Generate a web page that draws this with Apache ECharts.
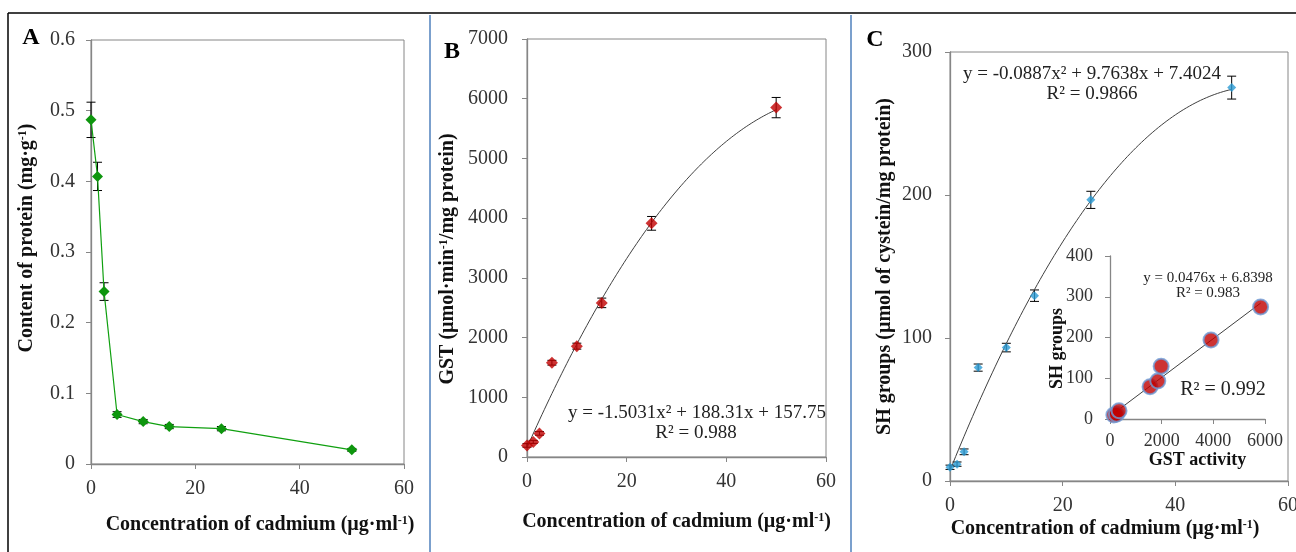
<!DOCTYPE html>
<html><head><meta charset="utf-8">
<script src="https://cdn.jsdelivr.net/npm/echarts@6/dist/echarts.min.js"></script>
<style>html,body{margin:0;padding:0;background:#fff}#c{width:1296px;height:552px}</style>
</head><body><div id="c"></div>
<script>
// ---------- data ----------
const concentration = [0, 1.25, 2.5, 5, 10, 15, 25, 50];
const protein      = [0.487, 0.407, 0.244, 0.070, 0.060, 0.053, 0.050, 0.020];
const proteinErr   = [0.025, 0.020, 0.0125, 0.004, 0.003, 0.003, 0.003, 0.002];
const gst          = [194, 253, 395, 1579, 1856, 2581, 3913, 5851];
const gstErr       = [30, 25, 30, 40, 50, 80, 115, 170];
const sh           = [9.6, 11.8, 20.4, 79.3, 93.3, 129.6, 196.6, 275.1];
const shErr        = [1.5, 1.5, 2, 2.5, 3, 4, 6, 8];
const insetGst     = [150, 250, 350, 1550, 1850, 1980, 3910, 5830];
const insetSh      = [9.6, 11.8, 20.4, 79.3, 93.3, 129.6, 194, 275];
// trendline coefficients printed on the chart
const fitB = [-1.5031, 188.31, 157.75];
const fitC = [-0.0887, 9.7638, 7.4024];
const fitInset = [0.0476, 6.8398];
// axis ticks [min, max, interval]
const ticksConc = [0, 60, 20];
const ticksProtein = [0, 0.6, 0.1];
const ticksGst = [0, 7000, 1000];
const ticksSh = [0, 300, 100];
const ticksInsetX = [0, 6000, 2000];
const ticksInsetY = [0, 400, 100];

const SERIF = '"Liberation Serif","Times New Roman",serif';
const AX = '#868686';

function pairs(xs, ys) { return xs.map((x, i) => [x, ys[i]]); }
function triples(xs, ys, es) { return xs.map((x, i) => [x, ys[i], es[i]]); }
function quad(c, x0, x1, n) {
  const out = [];
  for (let i = 0; i <= n; i++) { const x = x0 + (x1 - x0) * i / n; out.push([x, c[0]*x*x + c[1]*x + c[2]]); }
  return out;
}
function lin(c, x0, x1) { return [[x0, c[0]*x0 + c[1]], [x1, c[0]*x1 + c[1]]]; }

function errRender(capHalf) {
  return function (params, api) {
    const x = api.value(0), y = api.value(1), e = api.value(2);
    const t = api.coord([x, y + e]), b = api.coord([x, y - e]);
    const st = { stroke: '#000', lineWidth: 1 };
    return { type: 'group', children: [
      { type: 'line', shape: { x1: t[0], y1: t[1], x2: b[0], y2: b[1] }, style: st },
      { type: 'line', shape: { x1: t[0]-capHalf, y1: t[1], x2: t[0]+capHalf, y2: t[1] }, style: st },
      { type: 'line', shape: { x1: b[0]-capHalf, y1: b[1], x2: b[0]+capHalf, y2: b[1] }, style: st }
    ]};
  };
}

function axisBase(t, fs, margin) {
  return {
    type: 'value', min: t[0], max: t[1], interval: t[2],
    axisLine: { show: true, lineStyle: { color: AX, width: 1.3 } },
    axisTick: { show: true, inside: false, length: 5, lineStyle: { color: AX, width: 1 } },
    axisLabel: { fontFamily: SERIF, fontSize: fs, color: '#333', margin: margin, formatter: v => String(v) },
    splitLine: { show: false },
    nameLocation: 'middle', nameMoveOverlap: false
  };
}
function titleStyle(fs, padding) {
  return {
    fontFamily: SERIF, fontSize: fs, fontWeight: 'bold', color: '#111', padding: padding || 0,
    rich: { s: { fontFamily: SERIF, fontSize: Math.round(fs * 0.6), fontWeight: 'bold', color: '#111', verticalAlign: 'top' } }
  };
}

const concName = 'Concentration of cadmium (µg·ml{s|-1})';

const xAxes = [
  Object.assign(axisBase(ticksConc, 20, 15), { gridIndex: 0, name: concName, nameGap: 51, nameTextStyle: titleStyle(20, [0,0,0,25]) }),
  Object.assign(axisBase(ticksConc, 20, 15), { gridIndex: 1, name: concName, nameGap: 55, nameTextStyle: titleStyle(20) }),
  Object.assign(axisBase(ticksConc, 20, 15), { gridIndex: 2, name: concName, nameGap: 38, nameTextStyle: titleStyle(20, [0,28,0,0]) }),
  Object.assign(axisBase(ticksInsetX, 18, 13), { gridIndex: 3, name: 'GST activity', nameGap: 32, nameTextStyle: titleStyle(18, [0,0,0,20]) })
];
const yAxes = [
  Object.assign(axisBase(ticksProtein, 20, 16), { gridIndex: 0, name: 'Content of protein (mg·g{s|-1})', nameGap: 54, nameTextStyle: titleStyle(20, [0,0,0,28]),
    axisLabel: { fontFamily: SERIF, fontSize: 20, color: '#333', margin: 16, formatter: v => v === 0 ? '0' : v.toFixed(1) } }),
  Object.assign(axisBase(ticksGst, 20, 19), { gridIndex: 1, name: 'GST (µmol·min{s|-1}/mg protein)', nameGap: 69, nameTextStyle: titleStyle(20, [0,22,0,0]) }),
  Object.assign(axisBase(ticksSh, 20, 18), { gridIndex: 2, name: 'SH groups (µmol of cystein/mg protein)', nameGap: 55, nameTextStyle: titleStyle(20) }),
  Object.assign(axisBase(ticksInsetY, 18, 17), { gridIndex: 3, name: 'SH groups', nameGap: 44, nameTextStyle: titleStyle(18, [0,22,0,0]) })
];

const gridBorder = { show: true, borderColor: AX, borderWidth: 1, backgroundColor: 'transparent', containLabel: false, outerBoundsMode: 'none' };

const option = {
  animation: false,
  backgroundColor: '#fff',
  grid: [
    Object.assign({ left: 91, top: 40, width: 313, height: 424 }, gridBorder),
    Object.assign({ left: 527, top: 39, width: 299, height: 418 }, gridBorder),
    Object.assign({ left: 950, top: 52, width: 338, height: 429 }, gridBorder),
    { left: 1110, top: 256, width: 155, height: 163, show: false, containLabel: false, outerBoundsMode: 'none' }
  ],
  xAxis: xAxes,
  yAxis: yAxes,
  series: [
    // Panel A
    { type: 'custom', xAxisIndex: 0, yAxisIndex: 0, renderItem: errRender(4.5), data: triples(concentration, protein, proteinErr), z: 2 },
    { type: 'line', xAxisIndex: 0, yAxisIndex: 0, data: pairs(concentration, protein), symbol: 'diamond', symbolSize: 11,
      lineStyle: { color: '#10A010', width: 1.2 }, itemStyle: { color: '#0E960E' }, z: 3 },
    // Panel B
    { type: 'line', xAxisIndex: 1, yAxisIndex: 1, data: quad(fitB, 0, 50, 100), showSymbol: false, symbol: 'none',
      lineStyle: { color: '#404040', width: 1 }, z: 2 },
    { type: 'custom', xAxisIndex: 1, yAxisIndex: 1, renderItem: errRender(4.5), data: triples(concentration, gst, gstErr), z: 2 },
    { type: 'scatter', xAxisIndex: 1, yAxisIndex: 1, data: pairs(concentration, gst), symbol: 'diamond', symbolSize: 12,
      itemStyle: { color: '#C00000' }, z: 3 },
    // Panel C
    { type: 'line', xAxisIndex: 2, yAxisIndex: 2, data: quad(fitC, 0, 50, 100), showSymbol: false, symbol: 'none',
      lineStyle: { color: '#404040', width: 1 }, z: 2 },
    { type: 'custom', xAxisIndex: 2, yAxisIndex: 2, renderItem: errRender(4.5), data: triples(concentration, sh, shErr), z: 2 },
    { type: 'scatter', xAxisIndex: 2, yAxisIndex: 2, data: pairs(concentration, sh), symbol: 'diamond', symbolSize: 9,
      itemStyle: { color: '#2A9BD4' }, z: 3 },
    // Inset
    { type: 'line', xAxisIndex: 3, yAxisIndex: 3, data: lin(fitInset, Math.min(...insetGst), Math.max(...insetGst)), showSymbol: false, symbol: 'none',
      lineStyle: { color: '#404040', width: 1 }, z: 2 },
    { type: 'scatter', xAxisIndex: 3, yAxisIndex: 3, data: pairs(insetGst, insetSh), symbol: 'circle', symbolSize: 15,
      itemStyle: { color: '#C00000', borderColor: '#6E9BD6', borderWidth: 2 }, z: 3 }
  ],
  graphic: [
    { type: 'line', shape: { x1: 8, y1: 13, x2: 1296, y2: 13 }, style: { stroke: '#000', lineWidth: 1.5 } },
    { type: 'line', shape: { x1: 8, y1: 13, x2: 8, y2: 552 }, style: { stroke: '#000', lineWidth: 1.5 } },
    { type: 'line', shape: { x1: 430, y1: 15, x2: 430, y2: 552 }, style: { stroke: '#4F81BD', lineWidth: 1.5 } },
    { type: 'line', shape: { x1: 851, y1: 15, x2: 851, y2: 552 }, style: { stroke: '#4F81BD', lineWidth: 1.5 } },
    { type: 'text', x: 31, y: 38, style: { text: 'A', font: 'bold 24px ' + SERIF, fill: '#000', align: 'center', verticalAlign: 'middle' } },
    { type: 'text', x: 452, y: 52, style: { text: 'B', font: 'bold 24px ' + SERIF, fill: '#000', align: 'center', verticalAlign: 'middle' } },
    { type: 'text', x: 875, y: 40, style: { text: 'C', font: 'bold 24px ' + SERIF, fill: '#000', align: 'center', verticalAlign: 'middle' } },
    { type: 'text', x: 697, y: 413, style: { text: 'y = -1.5031x² + 188.31x + 157.75', font: '19px ' + SERIF, fill: '#222', align: 'center', verticalAlign: 'middle' } },
    { type: 'text', x: 696, y: 433, style: { text: 'R² = 0.988', font: '19px ' + SERIF, fill: '#222', align: 'center', verticalAlign: 'middle' } },
    { type: 'text', x: 1092, y: 74, style: { text: 'y = -0.0887x² + 9.7638x + 7.4024', font: '19px ' + SERIF, fill: '#222', align: 'center', verticalAlign: 'middle' } },
    { type: 'text', x: 1092, y: 94, style: { text: 'R² = 0.9866', font: '19px ' + SERIF, fill: '#222', align: 'center', verticalAlign: 'middle' } },
    { type: 'text', x: 1208, y: 278, style: { text: 'y = 0.0476x + 6.8398', font: '15px ' + SERIF, fill: '#222', align: 'center', verticalAlign: 'middle' } },
    { type: 'text', x: 1208, y: 293, style: { text: 'R² = 0.983', font: '15px ' + SERIF, fill: '#222', align: 'center', verticalAlign: 'middle' } },
    { type: 'text', x: 1223, y: 390, style: { text: 'R² = 0.992', font: '20px ' + SERIF, fill: '#222', align: 'center', verticalAlign: 'middle' } }
  ]
};
const chart = echarts.init(document.getElementById('c'), null, { renderer: 'canvas' });
chart.setOption(option);
</script></body></html>
